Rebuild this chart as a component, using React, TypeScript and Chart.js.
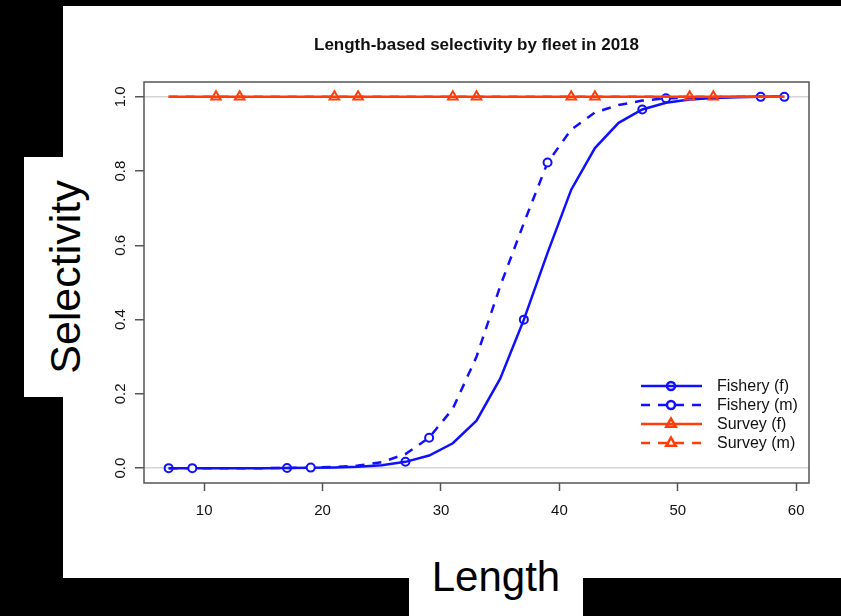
import { useEffect, useRef } from 'react'
import { Chart, registerables } from 'chart.js'
import { drawPoint } from 'chart.js/helpers'

Chart.register(...registerables)

// length bins (cm)
const lengths = [7, 9, 11, 13, 15, 17, 19, 21, 23, 25, 27, 29, 31, 33, 35, 37, 39, 41, 43, 45, 47, 49, 51, 53, 55, 57, 59]

// selectivity at length
const fisheryF = [0, 0, 0, 0, 0, 0.0003, 0.001, 0.002, 0.004, 0.008, 0.017, 0.034, 0.067, 0.128, 0.241, 0.4, 0.58, 0.75, 0.862, 0.93, 0.966, 0.984, 0.993, 0.997, 0.999, 1, 1]
const fisheryM = [0, 0, 0, 0, 0, 0.0005, 0.0015, 0.003, 0.007, 0.016, 0.038, 0.082, 0.16, 0.3, 0.49, 0.66, 0.823, 0.912, 0.958, 0.978, 0.99, 0.996, 0.998, 0.999, 1, 1, 1]
const surveyF = [1, 1, 1, 1, 1, 1, 1, 1, 1, 1, 1, 1, 1, 1, 1, 1, 1, 1, 1, 1, 1, 1, 1, 1, 1, 1, 1]
const surveyM = [1, 1, 1, 1, 1, 1, 1, 1, 1, 1, 1, 1, 1, 1, 1, 1, 1, 1, 1, 1, 1, 1, 1, 1, 1, 1, 1]

const seriesLabels = ['Fishery (f)', 'Fishery (m)', 'Survey (f)', 'Survey (m)']
const xTicks = [10, 20, 30, 40, 50, 60]
const yTicks = [0, 0.2, 0.4, 0.6, 0.8, 1]

const chartTitle = 'Length-based selectivity by fleet in 2018'
const xTitle = 'Length'
const yTitle = 'Selectivity'

const FONT = "'Liberation Sans', Arial, sans-serif"
const BLUE = '#1010ff'
const RED = '#ff3d0a'
const AXIS = '#555555'

const toPoints = (vals: number[]) => lengths.map((x, i) => ({ x, y: vals[i] }))

// R-style: a marker every 5th bin, offset per series
const markerEvery = (offset: number, r: number) => (ctx: any) =>
  ctx.dataIndex % 5 === offset ? r : 0

// box around the plot region (bty = "o")
const boxPlugin = {
  id: 'plotBox',
  afterDraw(chart: any) {
    const { ctx, chartArea: a } = chart
    ctx.save()
    ctx.strokeStyle = AXIS
    ctx.lineWidth = 1.5
    ctx.strokeRect(a.left, a.top, a.right - a.left, a.bottom - a.top)
    ctx.restore()
  },
}

// legend drawn like R's legend(): line sample with marker in the middle
const rLegendPlugin = {
  id: 'rLegend',
  afterDraw(chart: any) {
    const { ctx } = chart
    chart.data.datasets.forEach((ds: any, i: number) => {
      const y = 386 + i * 19
      ctx.save()
      ctx.strokeStyle = ds.borderColor
      ctx.lineWidth = ds.borderWidth
      ctx.setLineDash(ds.borderDash || [])
      ctx.beginPath()
      ctx.moveTo(641, y)
      ctx.lineTo(702, y)
      ctx.stroke()
      ctx.setLineDash([])
      ctx.fillStyle = 'rgba(0,0,0,0)'
      drawPoint(ctx, { pointStyle: ds.pointStyle, radius: ds.legendRadius, borderWidth: ds.pointBorderWidth, rotation: 0 } as any, 671, y)
      ctx.fillStyle = '#111'
      ctx.font = `16px ${FONT}`
      ctx.textAlign = 'left'
      ctx.textBaseline = 'middle'
      ctx.fillText(ds.label, 717, y + 1)
      ctx.restore()
    })
  },
}

function SelectivityChart() {
  const canvasRef = useRef<HTMLCanvasElement>(null)
  const chartRef = useRef<Chart | null>(null)

  useEffect(() => {
    if (!canvasRef.current) return
    if (chartRef.current) chartRef.current.destroy()
    const ctx = canvasRef.current.getContext('2d')
    if (!ctx) return

    const common = {
      borderWidth: 2.5,
      pointBorderWidth: 2,
      pointBackgroundColor: 'rgba(0,0,0,0)',
      pointHoverRadius: 0,
      fill: false,
      tension: 0,
    }

    chartRef.current = new Chart(ctx, {
      type: 'line',
      data: {
        datasets: [
          { ...common, label: seriesLabels[0], data: toPoints(fisheryF), borderColor: BLUE, pointBorderColor: BLUE, pointStyle: 'circle', pointRadius: markerEvery(0, 4), legendRadius: 4, order: 3 } as any,
          { ...common, label: seriesLabels[1], data: toPoints(fisheryM), borderColor: BLUE, pointBorderColor: BLUE, borderDash: [9, 8], pointStyle: 'circle', pointRadius: markerEvery(1, 4), legendRadius: 4, pointBackgroundColor: '#fff', order: 2 },
          { ...common, label: seriesLabels[2], data: toPoints(surveyF), borderColor: RED, pointBorderColor: RED, pointStyle: 'triangle', pointRadius: markerEvery(2, 5.5), legendRadius: 5.5, order: 1 },
          { ...common, label: seriesLabels[3], data: toPoints(surveyM), borderColor: RED, pointBorderColor: RED, borderDash: [9, 8], pointStyle: 'triangle', pointRadius: markerEvery(3, 5.5), legendRadius: 5.5, order: 0 },
        ],
      },
      options: {
        animation: false,
        responsive: false,
        layout: { padding: { top: 0, right: 32, bottom: 0, left: 0 } },
        plugins: {
          legend: { display: false },
          tooltip: { enabled: false },
          title: {
            display: true,
            fullSize: false,
            text: chartTitle,
            color: '#111',
            font: { family: FONT, size: 17, weight: 'bold' },
            padding: { top: 35, bottom: 26.6 },
          },
        },
        scales: {
          x: {
            type: 'linear',
            min: 4.92,
            max: 61.08,
            afterBuildTicks: (s: any) => {
              s.ticks = xTicks.map((v) => ({ value: v }))
            },
            afterFit: (s: any) => {
              s.height = 133
            },
            border: { display: false },
            grid: { drawOnChartArea: false, tickLength: 8, tickColor: AXIS, tickWidth: 1.5 },
            ticks: {
              padding: 11,
              color: '#111',
              font: { family: FONT, size: 15 },
              maxRotation: 0,
              autoSkip: false,
              callback: (v: any) => String(v),
            },
          },
          y: {
            min: -0.04,
            max: 1.04,
            afterBuildTicks: (s: any) => {
              s.ticks = yTicks.map((v) => ({ value: v }))
            },
            afterFit: (s: any) => {
              s.width = 144
            },
            border: { display: false },
            grid: {
              color: (c: any) => (c.tick && (c.tick.value === 0 || c.tick.value === 1) ? '#d4d4d4' : 'rgba(0,0,0,0)'),
              lineWidth: 1.5,
              tickLength: 9,
              tickColor: AXIS,
              tickWidth: 1.5,
            },
            ticks: {
              minRotation: 90,
              maxRotation: 90,
              crossAlign: 'center',
              padding: 4,
              color: '#111',
              font: { family: FONT, size: 15 },
              autoSkip: false,
              callback: (v: any) => Number(v).toFixed(1),
            },
          },
        },
      },
      plugins: [boxPlugin, rLegendPlugin],
    } as any)

    return () => {
      if (chartRef.current) {
        chartRef.current.destroy()
        chartRef.current = null
      }
    }
  }, [])

  return <canvas ref={canvasRef} width={841} height={616} style={{ position: 'absolute', left: 0, top: 0 }} />
}

export default function App() {
  return (
    <div style={{ position: 'fixed', left: 0, top: 0, width: 841, height: 616, background: '#000', overflow: 'hidden' }}>
      <div style={{ position: 'absolute', left: 63, top: 6, width: 778, height: 572, background: '#fff' }} />
      <div style={{ position: 'absolute', left: 24, top: 157, width: 50, height: 240, background: '#fff' }} />
      <div style={{ position: 'absolute', left: 409, top: 560, width: 174, height: 56, background: '#fff' }} />
      <span
        style={{
          position: 'absolute',
          left: 65,
          top: 277,
          transform: 'translate(-50%, -50%) rotate(-90deg)',
          fontFamily: FONT,
          fontSize: 43,
          lineHeight: '43px',
          whiteSpace: 'nowrap',
          color: '#000',
        }}
      >
        {yTitle}
      </span>
      <div
        style={{
          position: 'absolute',
          left: 409,
          top: 556,
          width: 174,
          textAlign: 'center',
          fontFamily: FONT,
          fontSize: 42,
          lineHeight: '42px',
          color: '#000',
        }}
      >
        {xTitle}
      </div>
      <SelectivityChart />
    </div>
  )
}
